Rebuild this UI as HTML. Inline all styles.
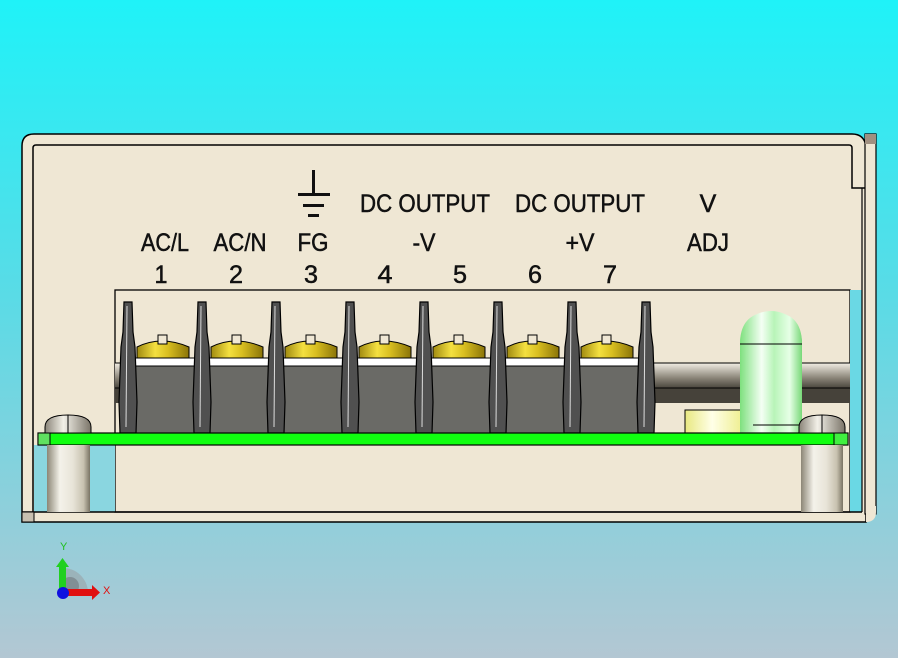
<!DOCTYPE html>
<html><head><meta charset="utf-8"><style>
html,body{margin:0;padding:0;width:898px;height:658px;overflow:hidden}
svg{display:block}
text{font-family:"Liberation Sans",Arial,sans-serif;fill:#111}
</style></head><body>
<svg width="898" height="658" viewBox="0 0 898 658" xmlns="http://www.w3.org/2000/svg">
<defs>
<linearGradient id="bg" x1="0" y1="0" x2="0" y2="1">
<stop offset="0" stop-color="#1ff2f8"/><stop offset="0.45" stop-color="#5adbe6"/><stop offset="1" stop-color="#b3c7d3"/></linearGradient>
<linearGradient id="gold" x1="0" y1="0" x2="1" y2="0">
<stop offset="0" stop-color="#a08a10"/><stop offset="0.35" stop-color="#f4e040"/><stop offset="0.6" stop-color="#d8be20"/><stop offset="1" stop-color="#8a7408"/></linearGradient>
<linearGradient id="cyl" x1="0" y1="0" x2="0" y2="1">
<stop offset="0" stop-color="#f2eee4"/><stop offset="0.6" stop-color="#8a8478"/><stop offset="1" stop-color="#4a463e"/></linearGradient>
<linearGradient id="stand" x1="0" y1="0" x2="1" y2="0">
<stop offset="0" stop-color="#8c8676"/><stop offset="0.3" stop-color="#f4f2ea"/><stop offset="0.6" stop-color="#e8e4d8"/><stop offset="0.85" stop-color="#c8c2b0"/><stop offset="1" stop-color="#7a7464"/></linearGradient>
<linearGradient id="led" x1="0" y1="0" x2="1" y2="0">
<stop offset="0" stop-color="#7ee07e"/><stop offset="0.35" stop-color="#f4fff4"/><stop offset="0.55" stop-color="#b8f4b8"/><stop offset="0.8" stop-color="#e6ffe6"/><stop offset="1" stop-color="#78d878"/></linearGradient>
<linearGradient id="cap" x1="0" y1="0" x2="1" y2="0">
<stop offset="0" stop-color="#e8e880"/><stop offset="0.4" stop-color="#ffffe8"/><stop offset="1" stop-color="#e8e870"/></linearGradient>
<linearGradient id="shead" x1="0" y1="0" x2="1" y2="0">
<stop offset="0" stop-color="#8a8478"/><stop offset="0.4" stop-color="#f2f0e8"/><stop offset="1" stop-color="#7a7468"/></linearGradient>
<g id="post">
<polygon points="-4,0 4,0 5,30 7,45 9,100 8,131 -8,131 -9,100 -7,45 -5,30" fill="#505050" stroke="#000" stroke-width="1.2"/>
<line x1="-1" y1="4" x2="-2" y2="125" stroke="#ddd" stroke-width="1"/>
</g>
<g id="blk">
<path d="M4,15 Q28,3 56,15 L56,26 L4,26 Z" fill="url(#gold)" stroke="#000" stroke-width="1"/>
<rect x="25" y="3" width="9" height="9" fill="#efe7d4" stroke="#000" stroke-width="1"/>
<rect x="2" y="26" width="66" height="8" fill="#fff" stroke="#000" stroke-width="1"/>
<rect x="0" y="34" width="68" height="67" fill="#6a6a66" stroke="#000" stroke-width="1"/>
</g>
</defs>
<rect width="898" height="658" fill="url(#bg)"/>
<path d="M22,146 Q22,134 34,134 L852,134 Q864,134 866,146 L866,522 L22,522 Z" fill="#efe7d4" stroke="#000" stroke-width="1.5"/>
<rect x="865" y="134" width="11" height="380" fill="#efe7d4" stroke="#000" stroke-width="1.2"/>
<rect x="865" y="134" width="11" height="10" fill="#a09080"/>
<path d="M866,506 L876,506 L876,512 Q876,522 866,522 Z" fill="#efe7d4"/>
<path d="M33,512 L33,148 Q33,145 36,145 L849,145 Q852,145 852,148 L852,188 L865,188" fill="none" stroke="#000" stroke-width="1.5"/>
<rect x="115" y="290" width="735" height="222" fill="#efe7d4" stroke="#000" stroke-width="1.3"/>
<rect x="34" y="445" width="81" height="67" fill="#8ad6e0"/>
<rect x="850" y="290" width="12" height="222" fill="#6ad8e4"/>
<line x1="862" y1="188" x2="862" y2="512" stroke="#000" stroke-width="1.2"/>
<path d="M22,512 L862,512" stroke="#000" stroke-width="1.5"/>
<rect x="22" y="512" width="12" height="10" fill="#c8c0b0" stroke="#000" stroke-width="1"/>
<rect x="115" y="363" width="735" height="25" fill="url(#cyl)"/>
<rect x="115" y="388" width="735" height="15" fill="#46423a"/>
<line x1="115" y1="363" x2="850" y2="363" stroke="#000"/>
<line x1="115" y1="388" x2="850" y2="388" stroke="#000"/>
<use href="#blk" x="133" y="332"/>
<use href="#blk" x="207" y="332"/>
<use href="#blk" x="281" y="332"/>
<use href="#blk" x="355" y="332"/>
<use href="#blk" x="429" y="332"/>
<use href="#blk" x="503" y="332"/>
<use href="#blk" x="577" y="332"/>
<use href="#post" x="128" y="302"/>
<use href="#post" x="202" y="302"/>
<use href="#post" x="276" y="302"/>
<use href="#post" x="350" y="302"/>
<use href="#post" x="424" y="302"/>
<use href="#post" x="498" y="302"/>
<use href="#post" x="572" y="302"/>
<use href="#post" x="646" y="302"/>
<rect x="685" y="410" width="68" height="23" fill="url(#cap)" stroke="#000" stroke-width="1"/>
<path d="M740,344 Q740,312 771,312 Q802,312 802,344 L802,433 L740,433 Z" fill="url(#led)"/>
<path d="M740,344 C740,300 802,300 802,344 L802,433 L740,433 Z" fill="url(#led)"/>
<line x1="740" y1="344" x2="802" y2="344" stroke="#000" stroke-width="1"/>
<line x1="753" y1="425" x2="800" y2="425" stroke="#000" stroke-width="1"/>
<rect x="38" y="433" width="810" height="12" fill="#10ff10" stroke="#000" stroke-width="1.2"/>
<rect x="38" y="433" width="12" height="12" fill="#60e060" stroke="#000" stroke-width="1"/>
<rect x="834" y="433" width="14" height="12" fill="#40f040" stroke="#000" stroke-width="1"/>
<rect x="47" y="445" width="43" height="67" fill="url(#stand)"/>
<rect x="801" y="445" width="42" height="67" fill="url(#stand)"/>
<path d="M45,433 L45,427 Q45,415 68,415 Q91,415 91,427 L91,433 Z" fill="url(#shead)" stroke="#000" stroke-width="1"/>
<line x1="68" y1="415" x2="68" y2="433" stroke="#000"/>
<path d="M799,433 L799,427 Q799,415 822,415 Q845,415 845,427 L845,433 Z" fill="url(#shead)" stroke="#000" stroke-width="1"/>
<line x1="822" y1="415" x2="822" y2="433" stroke="#000"/>
<g fill="#111">
<rect x="312" y="170" width="3" height="24"/>
<rect x="298" y="193" width="32" height="3"/>
<rect x="303" y="204" width="21" height="3"/>
<rect x="308" y="214" width="11" height="3"/>
</g>
<g text-anchor="middle" font-size="25" stroke="#111" stroke-width="0.5">
<text x="425" y="212" textLength="130" lengthAdjust="spacingAndGlyphs">DC OUTPUT</text>
<text x="580" y="212" textLength="130" lengthAdjust="spacingAndGlyphs">DC OUTPUT</text>
<text x="708" y="212">V</text>
<text x="165" y="251" textLength="48" lengthAdjust="spacingAndGlyphs">AC/L</text>
<text x="240" y="251" textLength="53" lengthAdjust="spacingAndGlyphs">AC/N</text>
<text x="313" y="251" textLength="31" lengthAdjust="spacingAndGlyphs">FG</text>
<text x="424" y="251" textLength="23" lengthAdjust="spacingAndGlyphs">-V</text>
<text x="580" y="251" textLength="29" lengthAdjust="spacingAndGlyphs">+V</text>
<text x="708" y="251" textLength="42" lengthAdjust="spacingAndGlyphs">ADJ</text>
<text x="161" y="283" textLength="13" lengthAdjust="spacingAndGlyphs">1</text>
<text x="236" y="283" textLength="14" lengthAdjust="spacingAndGlyphs">2</text>
<text x="311" y="283" textLength="14" lengthAdjust="spacingAndGlyphs">3</text>
<text x="385" y="283" textLength="15" lengthAdjust="spacingAndGlyphs">4</text>
<text x="460" y="283" textLength="14" lengthAdjust="spacingAndGlyphs">5</text>
<text x="535" y="283" textLength="14" lengthAdjust="spacingAndGlyphs">6</text>
<text x="610" y="283" textLength="14" lengthAdjust="spacingAndGlyphs">7</text>
</g>
<path d="M63,593 L63,568 A25,25 0 0 1 88,593 Z" fill="#9aa8ae" opacity="0.7"/>
<circle cx="70" cy="586" r="9" fill="#7a868c" opacity="0.8"/>
<rect x="63" y="589" width="30" height="7" fill="#e01010"/>
<polygon points="92,585 100,592.5 92,600" fill="#e01010"/>
<rect x="59" y="566" width="7" height="24" fill="#20d020"/>
<polygon points="56,567 62.5,558 69,567" fill="#20d020"/>
<circle cx="63" cy="593" r="6" fill="#1010e0"/>
<text x="103" y="594" font-size="11" style="fill:#e01010">X</text>
<text x="60" y="550" font-size="11" style="fill:#20c020">Y</text>
</svg>
</body></html>
